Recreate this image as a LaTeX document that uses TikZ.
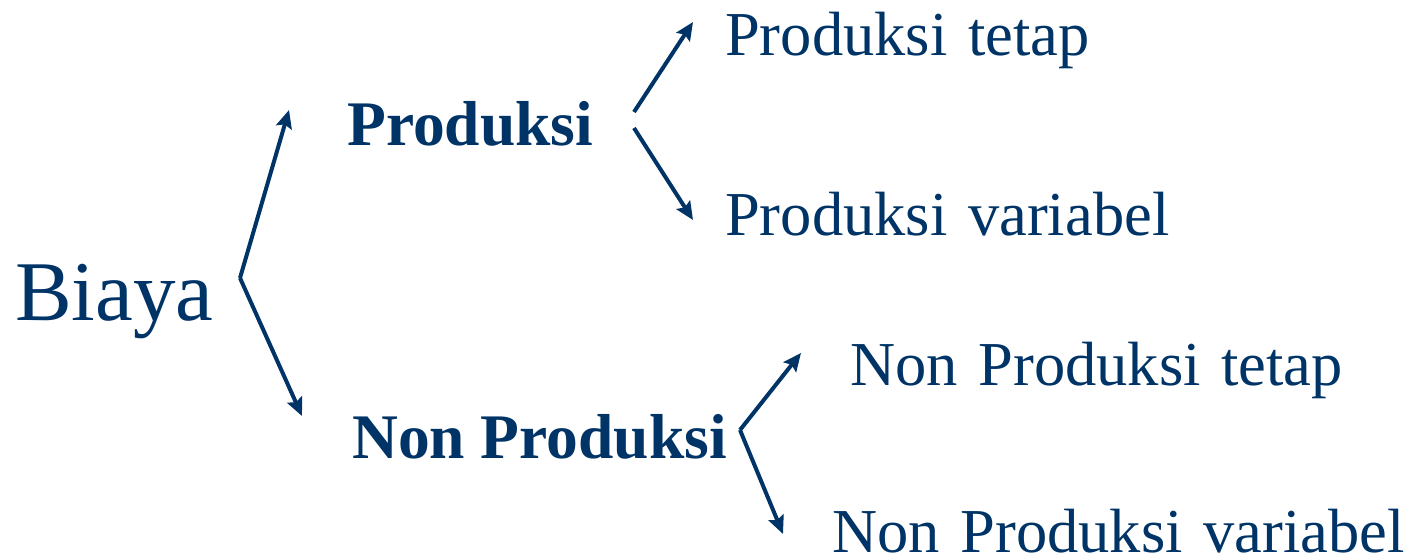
\documentclass[tikz,border=0pt]{standalone}
\usepackage{fontspec}
\setmainfont{Liberation Serif}
\usetikzlibrary{arrows.meta}
\definecolor{navy}{RGB}{0,51,102}
\newcommand{\widespace}{\spaceskip=0.33em plus 0.1em\relax}
\tikzset{
  lbl/.style={anchor=base west, inner sep=0pt, text=navy, font=\fontsize{62.5}{70}\selectfont\widespace},
  head/.style={lbl, font=\fontsize{63.5}{70}\selectfont\bfseries},
  root/.style={lbl, font=\fontsize{85}{95}\selectfont},
  link/.style={draw=navy, line width=4pt, -{Stealth[length=18pt,width=16pt,inset=3pt]}, line join=round}
}
\begin{document}
\begin{tikzpicture}[x=1pt,y=-1pt]
  \useasboundingbox (0,0) rectangle (1409,558);
  % labels
  \node[root] (biaya) at (15,320) {Biaya};
  \node[head] (prod) at (347,145) {Produksi};
  \node[head] (nonprod) at (352,458) {Non Produksi};
  \node[lbl] (pt) at (725,55) {Produksi tetap};
  \node[lbl] (pv) at (725,235) {Produksi variabel};
  \node[lbl] (npt) at (850,385) {Non Produksi tetap};
  \node[lbl] (npv) at (832,552) {Non Produksi variabel};
  % branch points and arrow ends
  \coordinate (b0) at (240,278);
  \coordinate (b1) at (289,110);
  \coordinate (b2) at (302,416);
  \coordinate (p1a) at (634,112);
  \coordinate (p1b) at (693,22);
  \coordinate (p2a) at (634,128);
  \coordinate (p2b) at (693,220);
  \coordinate (n0) at (740,430);
  \coordinate (n1) at (801,353);
  \coordinate (n2) at (783,534);
  % connectors
  \draw[link] (b0) -- (b1);
  \draw[link] (b0) -- (b2);
  \draw[link] (p1a) -- (p1b);
  \draw[link] (p2a) -- (p2b);
  \draw[link] (n0) -- (n1);
  \draw[link] (n0) -- (n2);
\end{tikzpicture}
\end{document}
